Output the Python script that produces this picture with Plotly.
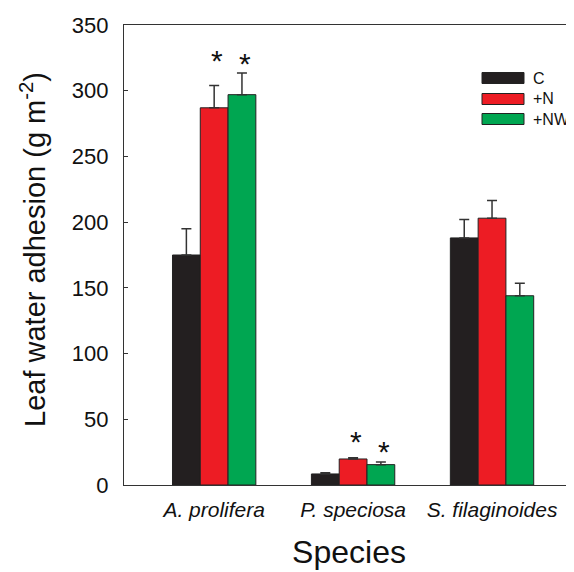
import plotly.graph_objects as go

# ---------------- data ----------------
species = ["A. prolifera", "P. speciosa", "S. filaginoides"]
series_names = ["C", "+N", "+NW"]
val_C = [175, 8.4, 188]
val_N = [287, 19.8, 203]
val_NW = [297, 15.5, 144]
err_C = [20, 1.0, 14]
err_N = [17, 1.0, 13.5]
err_NW = [16.5, 2.0, 9.5]
# significance markers: (species index, series index) and height of the '*'
sig = [(0, 1), (0, 2), (1, 1), (1, 2)]
sig_y = [327, 325, 37, 30]

colors = ["#231f20", "#ed1c24", "#00a651"]
values = [val_C, val_N, val_NW]
errors = [err_C, err_N, err_NW]

FONT = "Arial, Liberation Sans, sans-serif"
OFF = 8  # page body margin compensation
W, H = 574 - OFF, 572 - OFF
L, R, T, B = 124 - OFF, 0, 25 - OFF, 87
pw, ph = W - L - R, H - T - B

fig = go.Figure()
for name, v, e, c in zip(series_names, values, errors, colors):
    fig.add_trace(go.Bar(
        x=species, y=v, name=name,
        marker=dict(color=c, line=dict(color="#222222", width=1)),
        error_y=dict(type="data", symmetric=False, array=e,
                     arrayminus=[0] * len(e), color="#333333",
                     thickness=1.5, width=5),
        showlegend=False,
    ))

# asterisks above significant bars
bar_w = 0.2
for (gi, si), sy in zip(sig, sig_y):
    fig.add_annotation(
        x=gi + (si - 1) * bar_w, y=sy, xref="x", yref="y",
        text="*", showarrow=False, yanchor="bottom",
        yshift=-24, xshift=3,
        font=dict(family=FONT, size=30, color="#111111"),
    )

# positions in page px -> paper coords
def px_x(px):
    return (px - 124) / pw

def px_y(py):
    return 1 - (py - 25) / ph

# custom legend (wide swatches like the original)
leg_rows = [78, 99, 119]
for name, c, yc in zip(series_names, colors, leg_rows):
    fig.add_shape(type="rect", xref="paper", yref="paper",
                  x0=px_x(482), x1=px_x(524),
                  y0=px_y(yc + 5.5), y1=px_y(yc - 5.5),
                  fillcolor=c, line=dict(color="#222222", width=1))
    fig.add_annotation(xref="paper", yref="paper", x=px_x(531), y=px_y(yc),
                       text=name, showarrow=False, xanchor="left",
                       yanchor="middle",
                       font=dict(family=FONT, size=16, color="#111111"))

# y-axis title
fig.add_annotation(xref="paper", yref="paper", x=px_x(33), y=px_y(250),
                   text="Leaf water adhesion (g m<sup>-2</sup>)",
                   textangle=-90, showarrow=False,
                   xanchor="center", yanchor="middle",
                   font=dict(family=FONT, size=29, color="#111111"))

fig.update_layout(
    width=W, height=H,
    margin=dict(l=L, r=R, t=T, b=B, pad=0),
    paper_bgcolor="white", plot_bgcolor="white",
    barmode="group", bargap=0.4, bargroupgap=0,
    font=dict(family=FONT, color="#111111"),
)
fig.update_xaxes(
    range=[-0.649, 2.59], showline=True, linecolor="#333333", linewidth=1.2,
    mirror=True, ticks="", showgrid=False, zeroline=False,
    tickfont=dict(family=FONT, size=21, style="italic"),
    ticklabelstandoff=6,
    title=dict(text="Species", font=dict(family=FONT, size=32), standoff=20),
)
fig.update_yaxes(
    range=[0, 350], dtick=50, showline=True, linecolor="#333333",
    linewidth=1.2, ticks="inside", ticklen=4, tickcolor="#333333",
    showgrid=False, zeroline=False,
    tickfont=dict(family=FONT, size=22), ticklabelstandoff=10,
)

fig.write_html("out.html")
